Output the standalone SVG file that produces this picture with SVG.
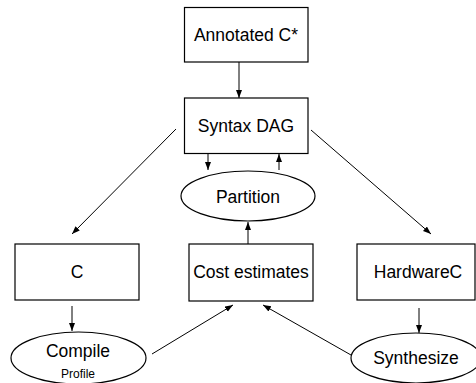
<svg xmlns="http://www.w3.org/2000/svg" width="476" height="383" viewBox="0 0 476 383">
<defs>
<marker id="ah" markerUnits="userSpaceOnUse" markerWidth="9" markerHeight="7" refX="8" refY="3" orient="auto">
<path d="M0,0 L8,3 L0,6 z" fill="#000"/>
</marker>
<style>
.n{fill:#fff;stroke:#000;stroke-width:1.2}
.t{font-family:"Liberation Sans",Arial,sans-serif;font-size:17.5px;fill:#000;text-anchor:middle}
.s{font-size:12px}
.c{stroke:#000;stroke-width:1;fill:none;marker-end:url(#ah)}
</style>
</defs>
<rect width="476" height="383" fill="#fff"/>
<g id="connectors">
<line class="c" x1="239" y1="62" x2="239" y2="98"/>
<line class="c" x1="208" y1="154" x2="208" y2="170"/>
<line class="c" x1="279" y1="170" x2="279" y2="154"/>
<line class="c" x1="248" y1="244" x2="248" y2="222"/>
<line class="c" x1="176" y1="129" x2="72" y2="234"/>
<line class="c" x1="311" y1="130" x2="431" y2="234"/>
<line class="c" x1="72" y1="306" x2="72" y2="331"/>
<line class="c" x1="419" y1="308" x2="419" y2="333"/>
<line class="c" x1="152" y1="354" x2="233" y2="305"/>
<line class="c" x1="351" y1="355" x2="263" y2="305"/>
</g>
<g id="annotated">
<rect class="n" x="184.5" y="7.5" width="123.5" height="54.5"/>
<text class="t" x="246" y="41">Annotated C*</text>
</g>
<g id="syntax">
<rect class="n" x="184.5" y="98" width="123.5" height="55.5"/>
<text class="t" x="246" y="132">Syntax DAG</text>
</g>
<g id="partition">
<ellipse class="n" cx="248" cy="196" rx="67" ry="25"/>
<text class="t" x="248" y="203">Partition</text>
</g>
<g id="c">
<rect class="n" x="15" y="244" width="124" height="56"/>
<text class="t" x="77" y="278">C</text>
</g>
<g id="cost">
<rect class="n" x="189" y="244" width="124" height="57"/>
<text class="t" x="251" y="278">Cost estimates</text>
</g>
<g id="hardwarec">
<rect class="n" x="357" y="244" width="118" height="56"/>
<text class="t" x="418" y="278">HardwareC</text>
</g>
<g id="compile">
<ellipse class="n" cx="78.5" cy="358" rx="67.5" ry="26"/>
<text class="t" x="78" y="357">Compile</text>
<text class="t s" x="78" y="378">Profile</text>
</g>
<g id="synthesize">
<ellipse class="n" cx="416" cy="358" rx="65" ry="25"/>
<text class="t" x="416" y="364">Synthesize</text>
</g>
</svg>
